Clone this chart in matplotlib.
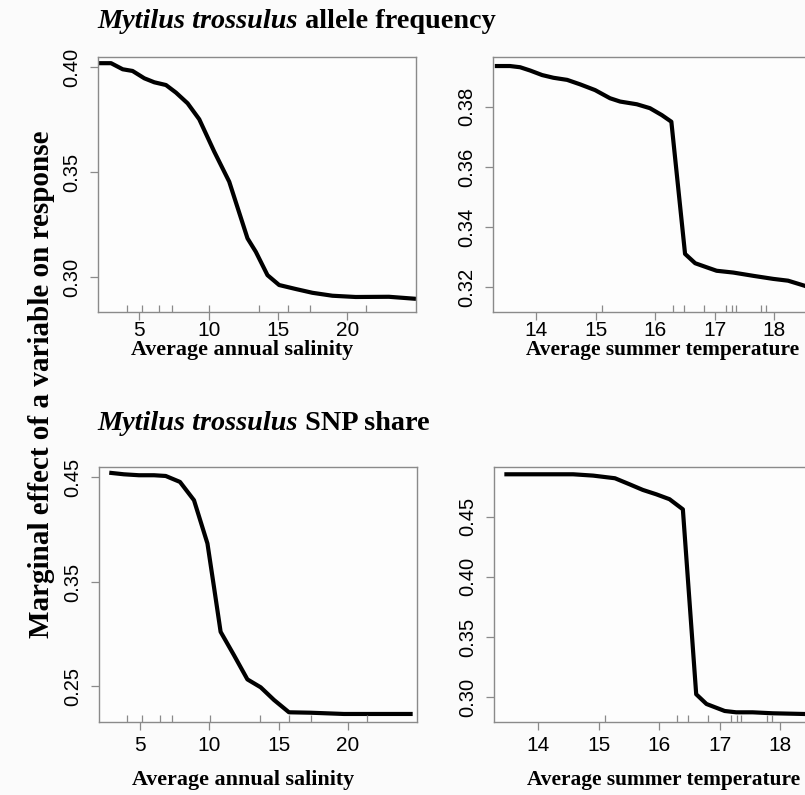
import matplotlib
matplotlib.use("Agg")
import matplotlib.pyplot as plt
from matplotlib.text import Annotation

# ---------------- data ----------------
sal_x_af = [2.12, 2.96, 3.80, 4.51, 5.36, 6.08, 6.92, 7.64, 8.48, 9.32, 10.40, 11.48,
            12.80, 13.40, 14.24, 15.08, 16.28, 17.48, 18.92, 20.60, 23.00, 24.80]
sal_y_af = [0.4019, 0.4019, 0.3990, 0.3982, 0.3947, 0.3928, 0.3915, 0.3879, 0.3828, 0.3752,
            0.3598, 0.3455, 0.3185, 0.3121, 0.3010, 0.2963, 0.2944, 0.2926, 0.2912, 0.2906,
            0.2907, 0.2898]

tmp_x_af = [13.34, 13.56, 13.73, 13.90, 14.10, 14.29, 14.52, 14.74, 14.99, 15.24, 15.41,
            15.69, 15.91, 16.11, 16.27, 16.50, 16.67, 16.87, 17.03, 17.31, 17.65, 17.98,
            18.23, 18.51, 18.60]
tmp_y_af = [0.3935, 0.3935, 0.3931, 0.3920, 0.3905, 0.3896, 0.3889, 0.3874, 0.3855, 0.3828,
            0.3817, 0.3808, 0.3795, 0.3772, 0.3750, 0.3311, 0.3280, 0.3266, 0.3255, 0.3249,
            0.3238, 0.3228, 0.3222, 0.3205, 0.3198]

sal_x_snp = [2.93, 3.84, 4.92, 6.01, 6.85, 7.88, 8.89, 9.86, 10.33, 10.81, 11.77, 12.74,
             13.70, 14.66, 15.74, 17.30, 19.70, 21.87, 24.51]
sal_y_snp = [0.4543, 0.4530, 0.4521, 0.4521, 0.4514, 0.4457, 0.4282, 0.3868, 0.3453, 0.3023,
             0.2800, 0.2568, 0.2492, 0.2371, 0.2253, 0.2249, 0.2237, 0.2237, 0.2237]

tmp_x_snp = [13.48, 14.03, 14.58, 14.91, 15.27, 15.51, 15.73, 15.95, 16.17, 16.39, 16.61,
             16.78, 17.08, 17.27, 17.54, 17.87, 18.40, 18.60]
tmp_y_snp = [0.4852, 0.4852, 0.4852, 0.4841, 0.4819, 0.4769, 0.4722, 0.4686, 0.4645, 0.4561,
             0.3025, 0.2944, 0.2886, 0.2875, 0.2875, 0.2867, 0.2861, 0.2860]

rug_sal = [4.09, 5.17, 6.42, 7.33, 10.04, 13.65, 15.74, 17.30, 21.34]
rug_tmp = [15.10, 16.30, 16.48, 16.81, 17.19, 17.28, 17.35, 17.78, 17.86]

sal_ticks = [5, 10, 15, 20]
tmp_ticks = [14, 15, 16, 17, 18]
yticks_a = [0.30, 0.35, 0.40]
yticks_b = [0.32, 0.34, 0.36, 0.38]
yticks_c = [0.25, 0.35, 0.45]
yticks_d = [0.30, 0.35, 0.40, 0.45]

titles = [("Mytilus trossulus", " allele frequency"),
          ("Mytilus trossulus", " SNP share")]
xlab_sal = "Average annual salinity"
xlab_tmp = "Average summer temperature"
ylab = "Marginal effect of a variable on response"

# ---------------- figure ----------------
W, H = 805, 795
fig = plt.figure(figsize=(W / 100, H / 100), dpi=100)
fig.patch.set_facecolor("#fbfbfb")

SERIF = ["Liberation Serif", "DejaVu Serif"]
SANS = ["Liberation Sans Narrow", "Liberation Sans", "DejaVu Sans"]


def px_axes(left, top, right, bottom):
    return fig.add_axes([left / W, 1 - bottom / H, (right - left) / W, (bottom - top) / H])


panels = [
    dict(box=(98.3, 57.3, 416.0, 311.7), x=sal_x_af, y=sal_y_af, xlim=(2.04, 24.95),
         ylim=(0.2836, 0.4047), xt=sal_ticks, yt=yticks_a, rug=rug_sal, xl=xlab_sal,
         lx=0.452, ly=-0.150, pad=0.5, lfs=15.8),
    dict(box=(493.3, 57.3, 811.3, 311.7), x=tmp_x_af, y=tmp_y_af, xlim=(13.28, 18.62),
         ylim=(0.3119, 0.3964), xt=tmp_ticks, yt=yticks_b, rug=rug_tmp, xl=xlab_tmp,
         lx=0.533, ly=-0.150, pad=0.5, lfs=15.4),
    dict(box=(99.0, 467.3, 416.7, 721.7), x=sal_x_snp, y=sal_y_snp, xlim=(2.04, 24.95),
         ylim=(0.2163, 0.4597), xt=sal_ticks, yt=yticks_c, rug=rug_sal, xl=xlab_sal,
         lx=0.452, ly=-0.229, pad=4.5, lfs=15.8),
    dict(box=(494.3, 467.3, 812.0, 721.7), x=tmp_x_snp, y=tmp_y_snp, xlim=(13.28, 18.52),
         ylim=(0.2797, 0.4910), xt=tmp_ticks, yt=yticks_d, rug=rug_tmp, xl=xlab_tmp,
         lx=0.534, ly=-0.229, pad=4.5, lfs=15.4),
]

GRAY = "#8a8a8a"
for p in panels:
    ax = px_axes(*p["box"])
    ax.set_facecolor("#fdfdfd")
    ax.plot(p["x"], p["y"], color="black", lw=3.0, solid_joinstyle="round", clip_on=True)
    ax.vlines(p["rug"], 0, 0.028, transform=ax.get_xaxis_transform(), color=GRAY, lw=0.9)
    ax.set_xlim(*p["xlim"])
    ax.set_ylim(*p["ylim"])
    ax.set_xticks(p["xt"])
    ax.set_yticks(p["yt"])
    ax.set_xticklabels([str(v) for v in p["xt"]])
    ax.set_yticklabels(["%.2f" % v for v in p["yt"]])
    for s in ax.spines.values():
        s.set_color(GRAY)
        s.set_linewidth(1.0)
    ax.tick_params(axis="both", direction="out", length=6, width=0.9, color=GRAY)
    ax.tick_params(axis="x", pad=p["pad"], labelsize=15)
    ax.tick_params(axis="y", pad=6, labelsize=14.5)
    for lab in ax.get_yticklabels():
        lab.set_rotation(90)
        lab.set_va("center")
        lab.set_family(SANS)
    for lab in ax.get_xticklabels():
        lab.set_family(SANS)
    ax.set_xlabel(p["xl"], family=SERIF, fontweight="bold", fontsize=p["lfs"])
    ax.xaxis.set_label_coords(p["lx"], p["ly"])
    ax.xaxis.label.set_va("center")

# titles
TFS = 20.3
for (it, rest), ypx in zip(titles, [21, 423]):
    t1 = fig.text(97 / W, 1 - ypx / H, it, family=SERIF, style="italic", fontweight="bold",
                  fontsize=TFS, va="center", ha="left")
    fig.add_artist(Annotation(
        rest, xy=(1, 0), xycoords=t1, va="bottom", ha="left",
        family=SERIF, fontweight="bold", fontsize=TFS, annotation_clip=False))

fig.text(42 / W, 1 - 384 / H, ylab, family=SERIF, fontweight="bold", fontsize=21,
         rotation=90, va="center", ha="center")

fig.savefig("out.png", dpi=100, facecolor=fig.get_facecolor())
